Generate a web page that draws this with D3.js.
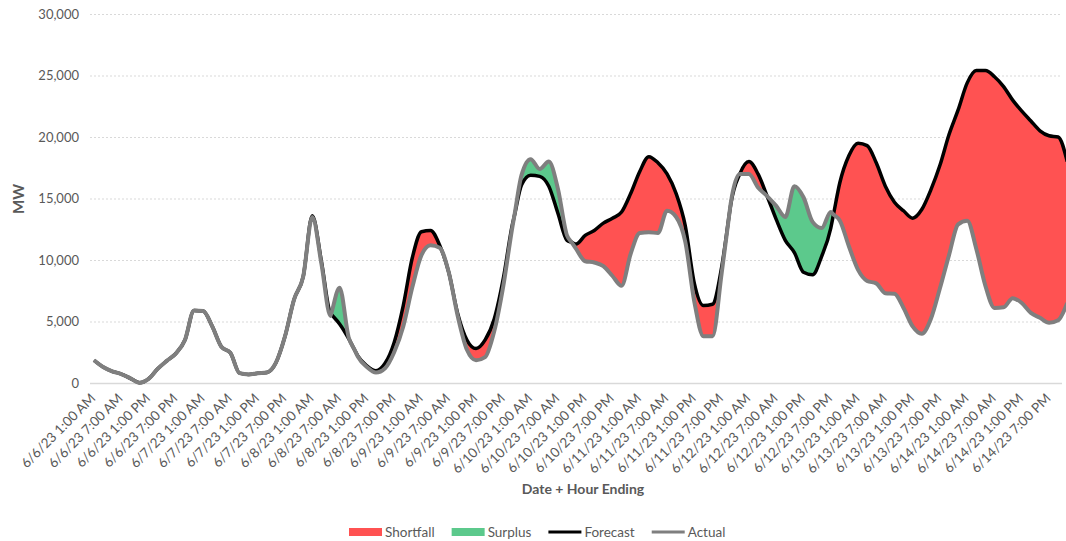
<!DOCTYPE html>
<html>
<head>
<meta charset="utf-8">
<script src="https://d3js.org/d3.v7.min.js"></script>
<style>
  body { margin: 0; background: #fff; }
  text { font-family: Lato, "Open Sans", sans-serif; fill: #595959; }
</style>
</head>
<body>
<script>
// Constantes del gráfico
const WIDTH = 1066;
const HEIGHT = 541;
const PLOT = { left: 90, right: 1062, x0: 94, pxHora: 4.548, top: 14, bottom: 383 };

// Datos: un punto cada 2 horas desde 6/6/23 1:00 AM
const PASO_HORAS = 2;
const dias = ["6/6/23", "6/7/23", "6/8/23", "6/9/23", "6/10/23", "6/11/23", "6/12/23", "6/13/23", "6/14/23"];
const horas = ["1:00 AM", "7:00 AM", "1:00 PM", "7:00 PM"];
const ticksY = [0, 5000, 10000, 15000, 20000, 25000, 30000];

const pronostico = [
  1850, 1300, 950, 730, 380, 30, 340, 1150, 1800, 2400,
  3500, 5900, 5850, 4600, 2950, 2450, 800, 700, 790, 850,
  1650, 3800, 6800, 8650, 13600, 9900, 5650, 4800, 3600, 2200,
  1400, 1000, 1600, 3300, 6300, 10200, 12300, 12400, 11200, 9000,
  5600, 3500, 2800, 3500, 5200, 8500, 12900, 16100, 16900, 16800,
  16000, 13800, 11600, 11300, 12000, 12400, 13000, 13400, 13900, 15400,
  17200, 18400, 17900, 17000, 15400, 12800, 8100, 6300, 6400, 9400,
  14500, 17000, 18000, 17000, 15200, 13300, 11600, 10600, 9000, 8800,
  10300, 12600, 16300, 18500, 19500, 19300, 17900, 16000, 14700, 14000,
  13400, 14100, 15700, 17700, 20200, 22200, 24400, 25400, 25400, 24900,
  24100, 23000, 22100, 21300, 20500, 20100, 20000, 18000
];

const real = [
  1850, 1300, 950, 730, 380, 30, 340, 1150, 1800, 2400,
  3500, 5900, 5850, 4600, 2950, 2450, 800, 700, 790, 850,
  1650, 3800, 6800, 8650, 13500, 9700, 5450, 7750, 3700, 2150,
  1300, 850, 1200, 2500, 4600, 7800, 10400, 11200, 11000, 9000,
  5400, 2700, 1850, 2100, 4200, 7900, 12700, 16900, 18200, 17400,
  18000, 15800, 12000, 10900, 9900, 9800, 9500, 8700, 7900, 10500,
  12200, 12250, 12200, 14000, 13500, 11500, 6600, 3800, 3800, 8900,
  14600, 17000, 17000, 15900, 15200, 14400, 13500, 16000, 15100, 13100,
  12600, 13900, 13200, 11100, 9200, 8300, 8100, 7300, 7250, 6100,
  4600, 4000, 5200, 7700, 10400, 12900, 13200, 10900, 7900, 6100,
  6150, 6900, 6500, 5700, 5300, 4900, 5100, 6500
];

// Etiquetas del eje X (cada 6 horas)
const etiquetasX = dias.flatMap(d => horas.map(h => `${d} ${h}`));

const svg = d3.select("body")
  .append("svg")
  .attr("width", WIDTH)
  .attr("height", HEIGHT);

// Escalas
const horaFinal = (real.length - 1) * PASO_HORAS;
const escalaX = d3.scaleLinear()
  .domain([0, horaFinal])
  .range([PLOT.x0, PLOT.x0 + PLOT.pxHora * horaFinal]);

const escalaY = d3.scaleLinear()
  .domain([0, 30000])
  .range([PLOT.bottom, PLOT.top]);

// Eje Y con líneas de grilla
const ejeY = d3.axisLeft(escalaY)
  .tickValues(ticksY)
  .tickSize(-(PLOT.right - PLOT.left))
  .tickPadding(11)
  .tickFormat(d3.format(","));

const contenedorEjeY = svg.append("g")
  .attr("transform", `translate(${PLOT.left}, 0)`)
  .call(ejeY);

contenedorEjeY.select(".domain").remove();
contenedorEjeY.selectAll("line")
  .attr("stroke", "#d9d9d9")
  .attr("stroke-width", d => d === 0 ? 1.5 : 1)
  .attr("stroke-dasharray", d => d === 0 ? null : "2,2");
contenedorEjeY.selectAll("text")
  .attr("font-size", 13)
  .attr("fill", "#595959");

// Eje X con etiquetas rotadas
const ejeX = d3.axisBottom(escalaX)
  .tickValues(etiquetasX.map((_, i) => i * 6))
  .tickSize(0)
  .tickFormat((_, i) => etiquetasX[i]);

const contenedorEjeX = svg.append("g")
  .attr("transform", `translate(0, ${PLOT.bottom})`)
  .call(ejeX);

contenedorEjeX.select(".domain").remove();
contenedorEjeX.selectAll("text")
  .attr("font-size", 13.5)
  .attr("fill", "#595959")
  .attr("text-anchor", "end")
  .attr("x", -10)
  .attr("y", 8)
  .attr("dy", "0.35em")
  .attr("transform", "rotate(-45)");

// Puntos con cruces entre pronóstico y real para las áreas
const puntos = real.map((a, i) => ({ h: i * PASO_HORAS, f: pronostico[i], a: a }));
const denso = [];
puntos.forEach((p, i) => {
  if (i > 0) {
    const q = puntos[i - 1];
    const d0 = q.f - q.a;
    const d1 = p.f - p.a;
    if (d0 * d1 < 0) {
      const t = d0 / (d0 - d1);
      const v = q.f + t * (p.f - q.f);
      denso.push({ h: q.h + t * (p.h - q.h), f: v, a: v });
    }
  }
  denso.push(p);
});

const curva = d3.curveMonotoneX;

const areaDeficit = d3.area()
  .curve(curva)
  .x(d => escalaX(d.h))
  .y0(d => escalaY(d.a))
  .y1(d => escalaY(Math.max(d.f, d.a)));

const areaSuperavit = d3.area()
  .curve(curva)
  .x(d => escalaX(d.h))
  .y0(d => escalaY(d.f))
  .y1(d => escalaY(Math.max(d.a, d.f)));

const contenedorVis = svg.append("g");

contenedorVis.append("path")
  .datum(denso)
  .attr("fill", "#ff5252")
  .attr("d", areaDeficit);

contenedorVis.append("path")
  .datum(denso)
  .attr("fill", "#5cc98c")
  .attr("d", areaSuperavit);

const linea = campo => d3.line()
  .curve(curva)
  .x(d => escalaX(d.h))
  .y(d => escalaY(d[campo]));

contenedorVis.append("path")
  .datum(denso)
  .attr("fill", "none")
  .attr("stroke", "#000")
  .attr("stroke-width", 3.5)
  .attr("stroke-linejoin", "round")
  .attr("d", linea("f"));

contenedorVis.append("path")
  .datum(denso)
  .attr("fill", "none")
  .attr("stroke", "#7f7f7f")
  .attr("stroke-width", 4)
  .attr("stroke-linejoin", "round")
  .attr("d", linea("a"));

// Títulos de los ejes
svg.append("text")
  .attr("transform", "translate(24, 199) rotate(-90)")
  .attr("text-anchor", "middle")
  .attr("font-size", 15)
  .attr("font-weight", "bold")
  .text("MW");

svg.append("text")
  .attr("x", 583)
  .attr("y", 494)
  .attr("text-anchor", "middle")
  .attr("font-size", 14)
  .attr("font-weight", "bold")
  .text("Date + Hour Ending");

// Leyenda
const leyenda = [
  { nombre: "Shortfall", tipo: "rect", color: "#ff5252" },
  { nombre: "Surplus", tipo: "rect", color: "#5cc98c" },
  { nombre: "Forecast", tipo: "line", color: "#000" },
  { nombre: "Actual", tipo: "line", color: "#7f7f7f" },
];

let xLeyenda = 349;
const yLeyenda = 532;
leyenda.forEach(item => {
  if (item.tipo === "rect") {
    svg.append("rect")
      .attr("x", xLeyenda).attr("y", yLeyenda - 4)
      .attr("width", 33).attr("height", 8)
      .attr("fill", item.color);
  } else {
    svg.append("line")
      .attr("x1", xLeyenda).attr("x2", xLeyenda + 33)
      .attr("y1", yLeyenda).attr("y2", yLeyenda)
      .attr("stroke", item.color).attr("stroke-width", 3);
  }
  const t = svg.append("text")
    .attr("x", xLeyenda + 36)
    .attr("y", yLeyenda)
    .attr("dy", "0.35em")
    .attr("font-size", 13.5)
    .text(item.nombre);
  xLeyenda += 36 + t.node().getComputedTextLength() + 17;
});
</script>
</body>
</html>
